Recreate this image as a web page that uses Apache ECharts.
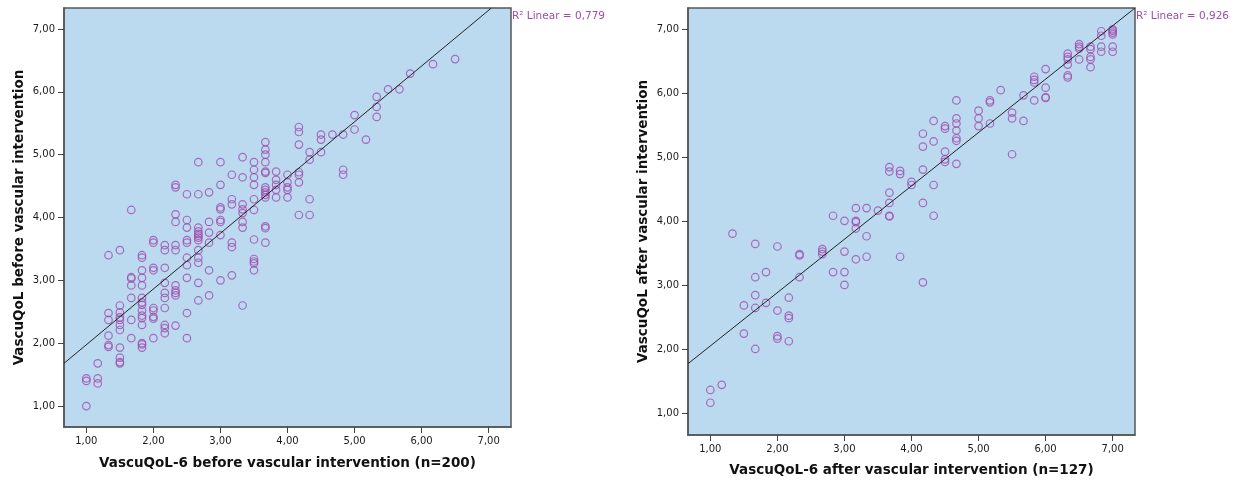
<!DOCTYPE html>
<html>
<head>
<meta charset="utf-8">
<script src="https://cdn.jsdelivr.net/npm/echarts@6/dist/echarts.min.js"></script>
<style>
  html, body { margin: 0; padding: 0; background: #fff; }
  #main { width: 1237px; height: 482px; }
</style>
</head>
<body>
<div id="main"></div>
<script>
// VascuQoL-6 score (x) columns and the VascuQoL scores (y) read at each column
var beforeX = [1, 1.17, 1.33, 1.5, 1.67, 1.83, 2, 2.17, 2.33, 2.5, 2.67, 2.83, 3, 3.17, 3.33, 3.5,
  3.67, 3.83, 4, 4.17, 4.33, 4.5, 4.67, 4.83, 5, 5.17, 5.33, 5.5, 5.67, 5.83, 6.17, 6.5];
var beforeY = [
  [1.44, 1.40, 1.00],
  [1.68, 1.44, 1.36],
  [3.40, 2.48, 2.37, 2.12, 1.97, 1.94],
  [3.48, 2.60, 2.49, 2.41, 2.37, 2.29, 2.21, 1.93, 1.77, 1.70, 1.68],
  [4.12, 3.05, 3.03, 2.92, 2.72, 2.37, 2.08],
  [3.40, 3.36, 3.16, 3.04, 2.92, 2.72, 2.65, 2.61, 2.52, 2.44, 2.40, 2.29, 2.00, 1.98, 1.93],
  [3.64, 3.60, 3.20, 3.16, 2.56, 2.52, 2.42, 2.39, 2.08],
  [3.56, 3.48, 3.20, 2.96, 2.80, 2.72, 2.56, 2.29, 2.24, 2.16],
  [4.52, 4.48, 4.05, 3.93, 3.56, 3.48, 2.92, 2.84, 2.80, 2.76, 2.28],
  [4.37, 3.96, 3.84, 3.64, 3.60, 3.36, 3.24, 3.04, 2.48, 2.08],
  [4.88, 4.37, 3.84, 3.78, 3.74, 3.71, 3.68, 3.64, 3.48, 3.36, 3.28, 2.96, 2.68],
  [4.40, 3.93, 3.76, 3.60, 3.16, 2.76],
  [4.88, 4.52, 4.16, 4.13, 3.96, 3.93, 3.72, 3.00],
  [4.68, 4.29, 4.21, 3.60, 3.53, 3.08],
  [4.96, 4.64, 4.21, 4.13, 4.07, 3.93, 3.84, 2.60],
  [4.88, 4.76, 4.64, 4.52, 4.29, 4.12, 3.65, 3.34, 3.30, 3.27, 3.16],
  [5.20, 5.08, 5.00, 4.88, 4.73, 4.71, 4.48, 4.44, 4.40, 4.36, 4.32, 3.86, 3.83, 3.60],
  [4.73, 4.60, 4.52, 4.44, 4.32],
  [4.68, 4.56, 4.48, 4.44, 4.32],
  [5.44, 5.36, 5.16, 4.72, 4.68, 4.56, 4.04],
  [5.04, 4.92, 4.29, 4.04],
  [5.32, 5.24, 5.04],
  [5.32],
  [5.32, 4.76, 4.68],
  [5.63, 5.40],
  [5.24],
  [5.92, 5.76, 5.60],
  [6.04],
  [6.04],
  [6.29],
  [6.44],
  [6.52]
];

var afterX = [1, 1.17, 1.33, 1.5, 1.67, 1.83, 2, 2.17, 2.33, 2.67, 2.83, 3, 3.17, 3.33, 3.5, 3.67,
  3.83, 4, 4.17, 4.33, 4.5, 4.67, 5, 5.17, 5.33, 5.5, 5.67, 5.83, 6, 6.33, 6.5, 6.67, 6.83, 7];
var afterY = [
  [1.37, 1.17],
  [1.45],
  [3.81],
  [2.69, 2.25],
  [3.65, 3.13, 2.85, 2.65, 2.01],
  [3.21, 2.73],
  [3.61, 2.61, 2.21, 2.17],
  [2.81, 2.53, 2.49, 2.13],
  [3.49, 3.47, 3.13],
  [3.57, 3.53, 3.49],
  [4.09, 3.21],
  [4.01, 3.53, 3.21, 3.01],
  [4.21, 4.01, 3.99, 3.89, 3.41],
  [4.21, 3.77, 3.45],
  [4.17],
  [4.85, 4.78, 4.45, 4.29, 4.09, 4.08],
  [4.79, 4.74, 3.45],
  [4.62, 4.57],
  [5.37, 5.17, 4.81, 4.29, 3.05],
  [5.57, 5.25, 4.57, 4.09],
  [5.49, 5.45, 5.09, 4.97, 4.93],
  [5.89, 5.61, 5.53, 5.42, 5.30, 5.26, 4.90],
  [5.73, 5.61, 5.49],
  [5.89, 5.86, 5.53],
  [6.05],
  [5.70, 5.61, 5.05],
  [5.97, 5.57],
  [6.26, 6.21, 6.17, 5.89],
  [6.38, 6.09, 5.94, 5.93],
  [6.62, 6.57, 6.53, 6.45, 6.28, 6.25],
  [6.77, 6.73, 6.70, 6.53],
  [6.73, 6.69, 6.57, 6.53, 6.41],
  [6.97, 6.90, 6.73, 6.65],
  [7.00, 6.98, 6.95, 6.92, 6.73, 6.65]
];

// fit line end points (where the line meets the plot frame)
var beforeFit = [[0.667, 1.68], [7.04, 7.333]];
var afterFit = [[0.667, 1.78], [7.333, 7.333]];

var tickValues = [1, 2, 3, 4, 5, 6, 7];
var r2Labels = ['R² Linear = 0,779', 'R² Linear = 0,926'];

function toPoints(xs, ys) {
  var pts = [];
  xs.forEach(function (x, i) {
    ys[i].forEach(function (y) { pts.push([x, y]); });
  });
  return pts;
}

var purple = '#A04CAE';
var font = 'DejaVu Sans';

function makeAxis(gridIndex, name, gap) {
  return {
    type: 'value',
    gridIndex: gridIndex,
    min: 2 / 3,
    max: 22 / 3,
    name: name,
    nameLocation: 'middle',
    nameGap: gap,
    nameTextStyle: { fontFamily: font, fontWeight: 'bold', fontSize: 13.5, color: '#111' },
    axisLine: { show: true, lineStyle: { color: '#555', width: 1.5 } },
    axisTick: { show: true, customValues: tickValues, length: 6, lineStyle: { color: '#444' } },
    axisLabel: {
      customValues: tickValues,
      margin: 9,
      fontFamily: font,
      fontSize: 10,
      color: '#1a1a1a',
      formatter: function (v) { return v.toFixed(2).replace('.', ','); }
    },
    splitLine: { show: false }
  };
}

var chart = echarts.init(document.getElementById('main'));
chart.setOption({
  animation: false,
  grid: [
    { left: 64, top: 8, width: 447, height: 419, show: true, backgroundColor: '#BBDAF0', borderColor: '#555', borderWidth: 1.5 },
    { left: 688, top: 8, width: 447, height: 428, show: true, backgroundColor: '#BBDAF0', borderColor: '#555', borderWidth: 1.5 }
  ],
  xAxis: [
    makeAxis(0, 'VascuQoL-6 before vascular intervention (n=200)', 29),
    makeAxis(1, 'VascuQoL-6 after vascular intervention (n=127)', 28)
  ],
  yAxis: [
    makeAxis(0, 'VascuQoL before vascular intervention', 38),
    makeAxis(1, 'VascuQoL after vascular intervention', 38)
  ],
  graphic: [
    { type: 'text', left: 512, top: 11, style: { text: r2Labels[0], fill: purple, font: '10.5px DejaVu Sans' } },
    { type: 'text', left: 1136, top: 11, style: { text: r2Labels[1], fill: purple, font: '10.5px DejaVu Sans' } }
  ],
  series: [
    {
      type: 'scatter', xAxisIndex: 0, yAxisIndex: 0,
      data: toPoints(beforeX, beforeY),
      symbol: 'circle', symbolSize: 7.5,
      itemStyle: { color: 'rgba(0,0,0,0)', borderColor: purple, borderWidth: 1.2 }
    },
    {
      type: 'line', xAxisIndex: 0, yAxisIndex: 0,
      data: beforeFit, showSymbol: false, symbol: 'none',
      lineStyle: { color: '#222', width: 1 }
    },
    {
      type: 'scatter', xAxisIndex: 1, yAxisIndex: 1,
      data: toPoints(afterX, afterY),
      symbol: 'circle', symbolSize: 7.5,
      itemStyle: { color: 'rgba(0,0,0,0)', borderColor: purple, borderWidth: 1.2 }
    },
    {
      type: 'line', xAxisIndex: 1, yAxisIndex: 1,
      data: afterFit, showSymbol: false, symbol: 'none',
      lineStyle: { color: '#222', width: 1 }
    }
  ]
});
</script>
</body>
</html>
